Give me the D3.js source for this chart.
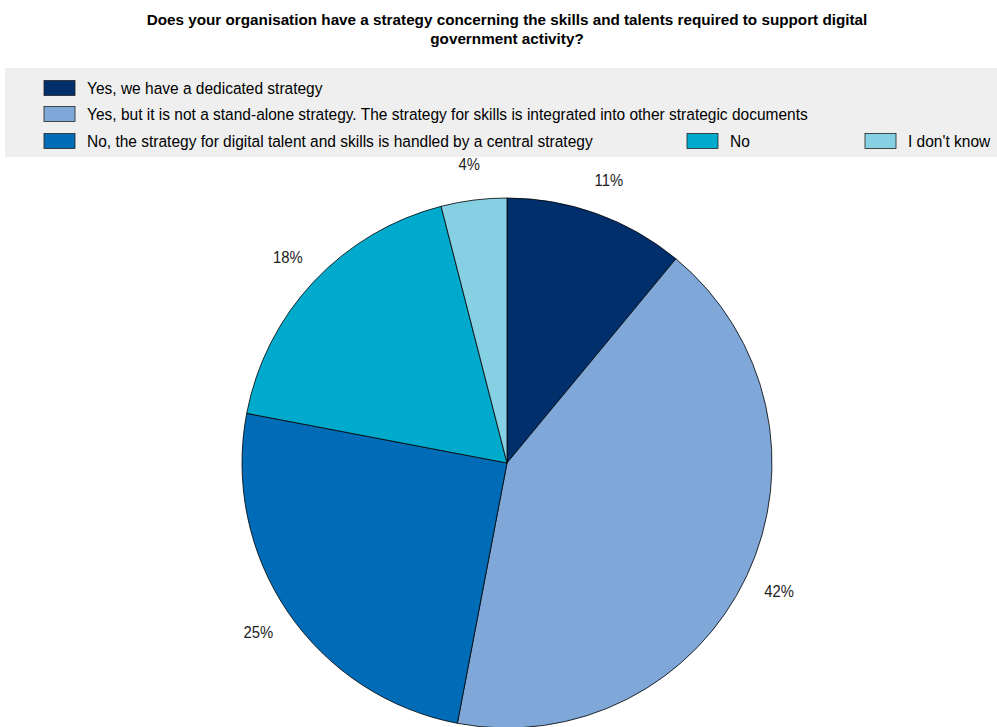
<!DOCTYPE html>
<html>
<head>
<meta charset="utf-8">
<script src="https://cdn.jsdelivr.net/npm/d3@7"></script>
<style>
  body { margin: 0; background: #fff; }
  svg { display: block; font-family: "Liberation Sans", Arial, sans-serif; }
</style>
</head>
<body>
<svg id="chart" width="997" height="727"></svg>
<script>
const categories = [
  "Yes, we have a dedicated strategy",
  "Yes, but it is not a stand-alone strategy. The strategy for skills is integrated into other strategic documents",
  "No, the strategy for digital talent and skills is handled by a central strategy",
  "No",
  "I don't know"
];
const values = [11, 42, 25, 18, 4];
const colors = ["#002F6C", "#7FA8D9", "#006BB6", "#00AACC", "#85D0E3"];
const titleLines = [
  "Does your organisation have a strategy concerning the skills and talents required to support digital",
  "government activity?"
];

const svg = d3.select("#chart");
const W = 997;

// Condensed text: horizontal squeeze around an anchor point
function squeeze(sel, x, y, sx) {
  sel.attr("transform", `translate(${x},${y}) scale(${sx},1)`);
}

// Title
svg.append("g").selectAll("text").data(titleLines).join("text")
  .each(function (d, i) { squeeze(d3.select(this), 507, 25 + i * 19, 0.985); })
  .attr("text-anchor", "middle")
  .attr("font-weight", "bold").attr("font-size", 15.5).attr("fill", "#000")
  .text(d => d);

// Legend panel
svg.append("rect").attr("x", 5).attr("y", 68).attr("width", W - 5).attr("height", 89).attr("fill", "#efefef");

const legendPos = [
  { x: 44, y: 88 }, { x: 44, y: 114 }, { x: 44, y: 141 }, { x: 687, y: 141 }, { x: 865, y: 141 }
];
const leg = svg.append("g").selectAll("g").data(categories).join("g")
  .attr("transform", (d, i) => `translate(${legendPos[i].x},${legendPos[i].y})`);
leg.append("rect").attr("x", 0).attr("y", -7.5).attr("width", 31).attr("height", 15)
  .attr("fill", (d, i) => colors[i]).attr("stroke", "#222").attr("stroke-width", 0.8);
leg.append("text")
  .each(function () { squeeze(d3.select(this), 43, 6, 0.94); })
  .attr("font-size", 16.5).attr("fill", "#000").text(d => d);

// Pie
const cx = 507, cy = 463, R = 265;
const pie = d3.pie().sort(null).value(d => d);
const arcs = pie(values);
const arc = d3.arc().innerRadius(0).outerRadius(R);
const labelArc = d3.arc().innerRadius(R * 1.135).outerRadius(R * 1.135);

const g = svg.append("g").attr("transform", `translate(${cx},${cy})`);
g.selectAll("path").data(arcs).join("path")
  .attr("d", arc)
  .attr("fill", (d, i) => colors[i])
  .attr("stroke", "#000").attr("stroke-width", 0.8);

g.selectAll("text").data(arcs).join("text")
  .each(function (d) {
    const [lx, ly] = labelArc.centroid(d);
    squeeze(d3.select(this), lx, ly, 0.9);
  })
  .attr("text-anchor", "middle").attr("dy", "0.35em")
  .attr("font-size", 16.5).attr("fill", "#222")
  .text(d => d.data + "%");
</script>
</body>
</html>
